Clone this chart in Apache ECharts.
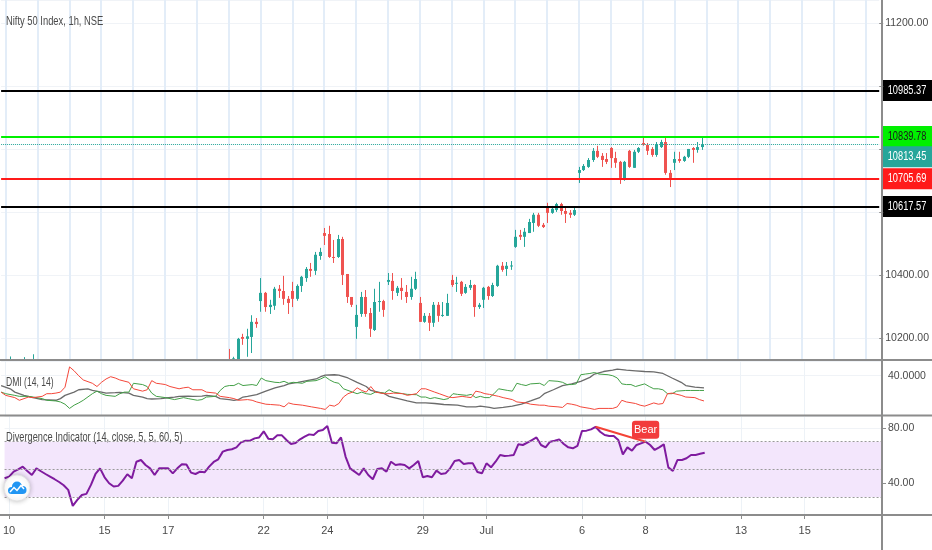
<!DOCTYPE html>
<html><head><meta charset="utf-8">
<script src="https://cdn.jsdelivr.net/npm/echarts@6/dist/echarts.min.js"></script>
<style>html,body{margin:0;padding:0;background:#fff}#c{width:932px;height:550px}</style>
</head><body><div id="c"></div>
<script>
const FONT = "'Liberation Sans', Arial, sans-serif";

// ---- time axis ----
const hours = ['09:15','10:15','11:15','12:15','13:15','14:15','15:15'];
const firstBar = ['06-09 15:15'];
const tradingDays = ['06-10','06-11','06-12','06-15','06-16','06-17','06-18','06-19','06-22','06-23','06-24','06-25','06-26','06-29','06-30','07-01','07-02','07-03','07-06','07-07','07-08','07-09'];
const futureDays = ['07-10','07-13','07-14','07-15','07-16','07-17'];
const totalBars = 194;
const dayLabels = {'06-10':'10','06-15':'15','06-17':'17','06-22':'22','06-24':'24','06-29':'29','07-01':'Jul','07-06':'6','07-08':'8','07-13':'13','07-15':'15'};

// ---- price (open, close, low, high) ----
const candles = [
[10080,10046,10030,10095],
[10072,10090,10040,10120],[10090,10110,10080,10141],[10110,10060,10040,10125],[10060,10010,9982,10070],[10010,10100,10005,10139],[10100,10095,10070,10125],[10095,10116,10085,10148],
[10094,10110,10080,10126],[10110,10060,10050,10115],[10060,10020,10000,10070],[10020,9990,9970,10030],[9990,9950,9930,10000],[9950,9920,9900,9960],[9920,9902,9885,9935],
[9544,9620,9544,9640],[9620,9700,9600,9720],[9700,9760,9680,9780],[9760,9740,9720,9790],[9740,9880,9730,9900],[9880,9960,9860,9990],[9960,9972,9930,9996],
[9919,9870,9850,9944],[9870,9820,9800,9890],[9820,9780,9760,9840],[9780,9790,9750,9810],[9790,9830,9770,9850],[9830,9860,9810,9870],[9860,9813,9726,9870],
[10014,10030,9990,10046],[10030,10010,9990,10040],[10010,9960,9950,10020],[9960,9880,9850,9970],[9880,9760,9728,9890],[9760,9860,9750,9880],[9860,9914,9840,9930],
[9876,9900,9860,9930],[9900,9880,9860,9920],[9880,9920,9870,9950],[9920,9950,9900,9966],[9950,9900,9880,9960],[9900,9860,9833,9910],[9860,9881,9840,9900],
[9863,9900,9845,9920],[9900,9890,9870,9930],[9890,9950,9880,9970],[9950,10000,9940,10020],[10000,10030,9980,10050],[10030,10080,10010,10100],[10080,10091,10060,10111],
[10119,10095,10072,10165],[10095,10135,10085,10140],[10132,10197,10120,10200],[10203,10197,10178,10213],[10197,10205,10140,10229],[10203,10251,10152,10272],[10251,10244,10232,10263],
[10317,10343,10283,10390],[10343,10298,10283,10346],[10298,10305,10276,10321],[10302,10356,10289,10362],[10356,10349,10327,10368],[10349,10324,10305,10397],[10324,10311,10276,10333],
[10349,10324,10298,10378],[10324,10365,10318,10370],[10365,10394,10346,10397],[10390,10419,10378,10425],[10419,10413,10394,10438],[10413,10464,10400,10473],[10460,10473,10448,10486],
[10533,10524,10495,10549],[10530,10457,10454,10556],[10457,10454,10438,10511],[10457,10514,10454,10527],[10514,10400,10368,10521],[10403,10330,10311,10403],[10330,10305,10298,10327],
[10235,10273,10197,10305],[10276,10330,10267,10346],[10330,10276,10267,10352],[10279,10229,10203,10295],[10225,10314,10222,10356],[10314,10317,10283,10378],[10317,10289,10267,10321],
[10378,10384,10368,10406],[10381,10349,10321,10406],[10343,10359,10333,10365],[10359,10349,10321,10390],[10346,10330,10311,10368],[10330,10356,10321,10394],[10356,10387,10352,10410],
[10311,10251,10251,10330],[10251,10270,10248,10279],[10270,10248,10222,10279],[10248,10305,10235,10314],[10305,10270,10251,10314],[10270,10273,10267,10314],[10270,10311,10270,10340],
[10384,10368,10362,10400],[10372,10375,10346,10394],[10378,10340,10333,10381],[10343,10362,10340,10371],[10359,10368,10352,10384],[10368,10298,10267,10370],[10298,10305,10292,10311],
[10321,10359,10295,10362],[10362,10333,10321,10365],[10333,10368,10330,10375],[10365,10429,10362,10432],[10429,10416,10410,10441],[10419,10429,10397,10441],[10427,10430,10416,10444],
[10489,10521,10486,10543],[10527,10521,10511,10543],[10521,10537,10489,10549],[10533,10568,10533,10578],[10565,10591,10537,10597],[10591,10556,10552,10597],[10559,10552,10549,10565],
[10613,10597,10565,10629],[10597,10610,10594,10619],[10606,10625,10600,10629],[10625,10603,10591,10629],[10603,10594,10565,10613],[10597,10591,10581,10606],[10591,10606,10587,10616],
[10724,10733,10692,10743],[10733,10746,10730,10752],[10743,10765,10740,10771],[10765,10794,10759,10803],[10794,10775,10771,10810],[10778,10765,10743,10787],[10768,10759,10752,10787],
[10803,10771,10740,10806],[10771,10756,10740,10791],[10759,10708,10689,10762],[10702,10759,10699,10762],[10794,10743,10740,10797],[10740,10791,10740,10797],[10791,10803,10787,10806],
[10819,10813,10810,10840],[10813,10794,10781,10819],[10800,10781,10775,10806],[10781,10813,10775,10822],[10806,10822,10803,10829],[10822,10724,10718,10835],[10724,10708,10679,10733],
[10756,10768,10733,10791],[10768,10762,10756,10791],[10762,10775,10759,10778],[10775,10800,10771,10800],[10803,10797,10756,10806],[10797,10806,10788,10822],[10806,10813.45,10797,10839]
];

// ---- horizontal levels ----
const levelValues = [10985.37, 10839.78, 10813.45, 10705.69, 10617.57];
const levelColors = ['#000000', '#00f000', '#26a69a', '#ff1a1a', '#000000'];
const levelTextColors = ['#ffffff', '#1a1a1a', '#ffffff', '#ffffff', '#ffffff'];
const levelLineTypes = ['solid', 'solid', 'dotted', 'solid', 'solid'];
const levelLineWidths = [2, 2, 1, 2, 2];
const levelTagShift = [0, 0, 12, 0, 0];
const hiddenPriceTicks = [11000, 10800, 10600];

// ---- DMI [bar, value] ----
const diMinus = [[0,23.3],[1,20],[3,17.7],[4,15],[6,18.3],[7,17.7],[9,19],[10,21.7],[11,21.7],[12,22.3],[13,23.3],[14,28.3],[15,49],[16,45],[17,40],[18,35.7],[20,32.3],[21,29],[22,33.3],[23,36.7],[24,39],[25,37.7],[26,35.7],[28,33.3],[29,26.7],[31,24.3],[32,25.7],[33,35],[34,32.3],[35,31.7],[36,31],[37,29],[39,26.7],[40,27.7],[41,28.3],[42,25.7],[44,25.7],[45,23.3],[47,22.3],[48,19],[50,17.7],[51,16.7],[52,15],[54,15.7],[55,15],[56,13.3],[58,11],[59,10.7],[61,10],[62,8.3],[63,12.3],[64,11],[66,10],[68,8.3],[70,6.7],[71,5.7],[72,10],[73,9],[74,11.7],[75,18.3],[76,21.7],[77,23.3],[78,27.7],[79,25],[80,23.3],[81,29],[82,23.3],[84,21.7],[85,21.7],[86,22.3],[88,21.7],[89,20],[91,21.7],[92,26.7],[93,26.7],[95,23.3],[96,21.7],[98,18.3],[99,17.7],[101,19],[102,18.3],[103,17.7],[104,24.3],[105,23.3],[106,21.7],[107,21],[109,19],[110,17.7],[112,15.7],[113,13.3],[115,12.3],[116,11],[118,10],[119,10],[120,9],[122,8.3],[123,7.7],[124,11.7],[125,11],[126,10],[127,8.3],[129,6.7],[130,5.7],[131,6.7],[133,6.7],[134,6.7],[135,8.3],[136,15],[137,13.3],[139,11.7],[140,10],[141,9],[143,12.3],[144,11],[145,11.7],[146,21.7],[147,22.3],[149,20],[150,18.3],[152,17.7],[153,15.7],[154,14.3]];
const diPlus = [[0,23.3],[1,21.7],[3,20],[4,19],[6,19],[7,18.3],[9,16.7],[10,15],[12,14.3],[13,13.3],[14,11],[15,6.7],[16,10],[17,12.3],[18,15],[20,21.7],[21,24.3],[22,21.7],[23,20],[25,19],[26,21.7],[27,23.3],[28,23.3],[29,32.3],[31,31],[32,29],[33,22.3],[34,19],[36,17.7],[37,16.7],[38,15.7],[40,17.7],[41,16.7],[43,15],[44,15.7],[45,18.3],[47,19],[48,25],[49,29],[50,30],[51,30],[52,32.3],[53,30],[55,31],[56,30],[57,37.7],[58,35],[60,33.3],[61,33],[62,34.3],[63,32.3],[64,33.3],[66,32.3],[67,34.3],[69,35],[70,36.7],[71,39],[72,35.7],[73,33.3],[74,32.3],[75,26.7],[77,23.3],[78,21.7],[79,23.3],[80,21.7],[81,21],[82,23.3],[84,22.3],[85,25.7],[86,23.3],[88,21.7],[89,21],[91,20.7],[92,18.3],[93,18.3],[94,16.7],[95,17.7],[97,15.7],[98,16.7],[99,21.7],[100,21],[102,20],[103,21],[104,17.7],[105,19],[106,17.7],[107,17.7],[108,21.7],[109,26.7],[111,25],[112,24.3],[113,32.3],[114,31],[115,30],[116,31.7],[118,32.3],[119,30],[120,35],[122,34.3],[123,33.3],[124,31],[125,31],[126,31.7],[127,41],[128,41.7],[129,42.3],[130,43.3],[131,41.7],[133,41],[134,40],[135,37.7],[136,31.7],[137,31],[138,31],[139,29],[141,31.7],[142,29],[143,26.7],[144,26.7],[145,25.7],[146,21.7],[147,21.7],[148,24.3],[150,25],[151,25],[153,25],[154,25]];
const adx = [[0,30],[2,26.7],[3,23.3],[5,20],[7,17.7],[9,15.7],[12,15],[13,16.7],[14,20],[16,23.3],[17,25.7],[19,26.7],[20,25],[22,23.3],[23,22.3],[25,22.7],[26,23],[28,22.3],[29,20],[31,18.3],[32,16.7],[33,16.3],[35,16.7],[36,17.3],[38,18.3],[39,19],[41,19.3],[42,19],[44,19.3],[45,20],[47,19],[48,16.7],[50,15.7],[51,15],[52,15.7],[53,18.3],[54,19],[56,20.7],[58,24.3],[60,27.7],[62,30],[63,31.7],[65,33.3],[67,35],[69,36.7],[70,39],[71,40.7],[73,41],[74,40.7],[76,37.7],[78,33.3],[80,29],[81,25],[84,21.7],[85,19],[87,16.7],[89,14.3],[91,12.3],[93,12.3],[95,11.7],[97,10.7],[100,10],[102,8.3],[104,8.3],[105,9],[107,7.7],[108,6.7],[110,7.7],[112,9],[114,11],[116,14.3],[118,17.7],[119,21.7],[121,25.7],[123,30],[125,31.7],[127,34.3],[129,38.3],[130,41.7],[132,44.3],[134,45.7],[135,46.7],[137,45.7],[139,45],[141,44.3],[143,44],[145,42.3],[147,37.7],[149,33.3],[150,30],[152,28.3],[154,27.7]];

// ---- Divergence indicator (RSI) ----
const rsi = [43.5,44.7,48.3,50,51.9,48.8,45.9,50.7,48.6,46.6,
44.7,42.8,40.8,38.4,35.1,23.5,27.8,31.4,32.2,38.7,
46.6,50.7,44.2,39.9,37.5,38,41.8,46.4,43.5,55.5,
56.7,53.1,50.7,45.9,50.7,50.7,50.7,47.1,50.7,53.6,
53.4,47.6,46.6,48.3,47.8,51.9,55.3,57.2,62.8,64,
64.5,65.9,69.5,70.7,70.7,72.4,73.1,77.5,72.2,71.7,
74.6,74.6,71.2,68.3,69,71.7,73.6,75.3,74.8,77.7,
78.4,81.3,69.3,68.8,73.1,59.2,50.7,48.3,45.9,50.7,
45.9,42.8,50.2,50.7,48.3,55.5,53.1,53.6,53.1,50.7,
53.1,56,44.2,45.2,44.2,49,46.6,47.1,50.7,56,
56.7,53.9,54.3,54.3,48,47.1,54.3,51.4,55.5,60.4,
59.6,59.9,60.4,68.1,67.6,69.3,71.2,73.1,67.6,65.9,
70,70.7,71.7,68.3,65.9,65.2,66.9,77.7,78,78.9,
80.8,77.2,74.8,74.1,74.1,71.2,60.8,65.9,63.5,67.6,
68.8,70,67.6,64,65.9,68.1,51.4,48.8,56.7,56.7,
58,60.4,60.4,61.2,62];
const bearDivergence = [[130, 80.8], [141, 70]];
const rsiBand = [30, 70];
const rsiLevels = [70, 50, 30];

// ---- pane titles ----
const paneTitles = ['Nifty 50 Index, 1h, NSE', 'DMI (14, 14)', 'Divergence Indicator (14, close, 5, 5, 60, 5)'];

// ---- build categories ----
const categories = firstBar.slice();
tradingDays.concat(futureDays).forEach(d => hours.forEach(h => categories.push(d + ' ' + h)));
categories.length = totalBars;
const candleData = candles.map((c, i) => [i].concat(c));

const isDayStart = (i, v) => v.endsWith('09:15');
const isLabelDay = (i, v) => v.endsWith('09:15') && !!dayLabels[v.slice(0, 5)];

const txt = {fontFamily: FONT, fontSize: 10.5, color: '#4a4a4a'};
const gridL = 1.1, gridR = 50;
const UP = '#26a69a', DOWN = '#ef5350';

const chart = echarts.init(document.getElementById('c'), null, {renderer: 'canvas'});

function renderCandle(params, api) {
  const i = api.value(0), o = api.value(1), c = api.value(2), l = api.value(3), h = api.value(4);
  const pO = api.coord([i, o]), pC = api.coord([i, c]), pL = api.coord([i, l]), pH = api.coord([i, h]);
  const col = c >= o ? UP : DOWN;
  const bw = 3;
  const x = Math.round(pO[0]) + 0.5;
  return {type: 'group', children: [
    {type: 'line', shape: {x1: x, y1: pH[1], x2: x, y2: pL[1]}, style: {stroke: col, lineWidth: 1}},
    {type: 'rect', shape: {x: x - bw / 2, y: Math.min(pO[1], pC[1]), width: bw, height: Math.max(1, Math.abs(pO[1] - pC[1]))}, style: {fill: col}}
  ]};
}

const option = {
  animation: false,
  backgroundColor: '#ffffff',
  grid: [
    {left: gridL, right: gridR, top: 0, height: 359},
    {left: gridL, right: gridR, top: 361, height: 54},
    {left: gridL, right: gridR, top: 416, height: 99}
  ],
  xAxis: [0, 1, 2].map(k => ({
    type: 'category', gridIndex: k, data: categories, boundaryGap: false,
    axisLine: {show: false},
    axisTick: k === 2 ? {show: true, interval: isLabelDay, length: 4, lineStyle: {color: '#8c8c8c'}} : {show: false},
    axisLabel: k === 2 ? Object.assign({show: true, interval: isLabelDay, margin: 10,
      formatter: v => dayLabels[v.slice(0, 5)] || ''}, txt, {fontSize: 11}) : {show: false},
    splitLine: {show: true, interval: k === 0 ? isDayStart : isLabelDay,
      lineStyle: {color: k === 0 ? '#e3edf8' : '#edf2f7', width: k === 0 ? 2 : 1}}
  })),
  yAxis: [
    {type: 'value', gridIndex: 0, position: 'right', min: 10133, max: 11273, minInterval: 200, maxInterval: 200,
     axisLine: {show: false}, axisTick: {show: true, length: 4, lineStyle: {color: '#8c8c8c'}},
     axisLabel: Object.assign({margin: 6, showMinLabel: false, showMaxLabel: false,
       formatter: v => hiddenPriceTicks.includes(v) ? '' : v.toFixed(2)}, txt),
     splitLine: {lineStyle: {color: '#f0f3f7'}}},
    {type: 'value', gridIndex: 1, position: 'right', min: 0, max: 55, interval: 40,
     axisLine: {show: false}, axisTick: {show: false},
     axisLabel: Object.assign({margin: 6, showMinLabel: false, showMaxLabel: false,
       formatter: v => v === 40 ? '40.0000' : ''}, txt),
     splitLine: {lineStyle: {color: '#f0f3f7'}}},
    {type: 'value', gridIndex: 2, position: 'right', min: 16.9, max: 88.6, minInterval: 40, maxInterval: 40,
     axisLine: {show: false}, axisTick: {show: true, length: 4, lineStyle: {color: '#8c8c8c'}},
     axisLabel: Object.assign({margin: 6, showMinLabel: false, showMaxLabel: false,
       formatter: v => (v === 40 || v === 80) ? v.toFixed(2) : ''}, txt),
     splitLine: {lineStyle: {color: '#f0f3f7'}}}
  ],
  series: [
    {type: 'custom', xAxisIndex: 0, yAxisIndex: 0, data: candleData, clip: true,
     encode: {x: 0, y: [1, 2, 3, 4]}, renderItem: renderCandle,
     markLine: {silent: true, symbol: 'none', label: {show: false},
       data: levelValues.map((v, k) => ({yAxis: v, lineStyle: {color: levelColors[k], width: levelLineWidths[k], type: levelLineTypes[k]}}))}},
    {type: 'line', xAxisIndex: 1, yAxisIndex: 1, data: adx, showSymbol: false, lineStyle: {color: '#6b6b6b', width: 1.3}},
    {type: 'line', xAxisIndex: 1, yAxisIndex: 1, data: diPlus, showSymbol: false, lineStyle: {color: '#43a047', width: 1}},
    {type: 'line', xAxisIndex: 1, yAxisIndex: 1, data: diMinus, showSymbol: false, lineStyle: {color: '#f4473a', width: 1}},
    {type: 'line', xAxisIndex: 2, yAxisIndex: 2, data: rsi, showSymbol: false, lineStyle: {color: '#7f1b9f', width: 2},
     markArea: {silent: true, itemStyle: {color: '#f3e6fc'}, data: [[{yAxis: rsiBand[0]}, {yAxis: rsiBand[1]}]]},
     markLine: {silent: true, symbol: 'none', label: {show: false},
       lineStyle: {color: '#9a9a9a', type: [2, 2], width: 1},
       data: rsiLevels.map(v => ({yAxis: v}))}},
    {type: 'line', xAxisIndex: 2, yAxisIndex: 2, symbol: 'circle', symbolSize: 0.1, showSymbol: true,
     lineStyle: {color: '#f44336', width: 2}, itemStyle: {color: '#f44336'},
     data: bearDivergence.map((p, k) => k === bearDivergence.length - 1 ? {value: p, label: {show: true, position: 'top', distance: 3,
       formatter: 'Bear', color: '#ffffff', backgroundColor: '#f23c3c', borderRadius: 3, padding: [4, 2, 3, 2],
       fontFamily: FONT, fontSize: 11}} : {value: p})}
  ]
};
chart.setOption(option);

// layout graphics: pane separators, price scale line, pane titles, logo, and price tags placed through the y scale
const W = 932, H = 550, axisX = 882;
const sepLines = [360, 415.5, 515].map(y => ({type: 'line', shape: {x1: 0, y1: y, x2: W, y2: y}, style: {stroke: '#8c8c8c', lineWidth: 2}, z: 50}));
const axisLineG = {type: 'line', shape: {x1: axisX, y1: 0, x2: axisX, y2: H}, style: {stroke: '#8c8c8c', lineWidth: 2}, z: 50};
const titlePos = [[6, 21, 0.72], [6, 382, 0.66], [6, 437, 0.71]];
const titles = paneTitles.map((t, k) => ({type: 'text', x: titlePos[k][0], y: titlePos[k][1], scaleX: titlePos[k][2], z: 55,
  style: {text: t, fill: '#4a4a4a', font: '13px ' + FONT, textVerticalAlign: 'middle', verticalAlign: 'middle'}}));
const tags = levelValues.map((v, k) => {
  const y = chart.convertToPixel({yAxisIndex: 0}, v) + levelTagShift[k];
  return {type: 'group', z: 60, children: [
    {type: 'rect', shape: {x: axisX, y: y - 10.5, width: W - axisX, height: 21}, style: {fill: levelColors[k]}},
    {type: 'text', x: axisX + 25, y: y, scaleX: 0.74, style: {text: v.toFixed(2), fill: levelTextColors[k], font: '12.5px ' + FONT,
      textAlign: 'center', textVerticalAlign: 'middle', align: 'center', verticalAlign: 'middle'}}
  ]};
});
const LOGO_BLUE = '#2196f3';
const logoParts = [
  {type: 'circle', z: 100, shape: {cx: 17, cy: 488, r: 13}, style: {fill: '#ffffff', stroke: '#e4e4e4', lineWidth: 1, shadowBlur: 5, shadowColor: 'rgba(0,0,0,0.22)'}},
  {type: 'circle', z: 101, shape: {cx: 11.5, cy: 490.5, r: 3.5}, style: {fill: LOGO_BLUE}},
  {type: 'circle', z: 101, shape: {cx: 17, cy: 486.5, r: 5}, style: {fill: LOGO_BLUE}},
  {type: 'circle', z: 101, shape: {cx: 22.5, cy: 490, r: 4}, style: {fill: LOGO_BLUE}},
  {type: 'rect', z: 101, shape: {x: 11.5, y: 488, width: 11, height: 6}, style: {fill: LOGO_BLUE}},
  {type: 'polyline', z: 102, shape: {points: [[10, 492], [14, 487.5], [17, 490.5], [21, 485.5], [24, 489]]}, style: {stroke: '#ffffff', lineWidth: 1.5, fill: null}}
];
chart.setOption({graphic: sepLines.concat([axisLineG], titles, tags, logoParts)});
</script>
</body></html>
